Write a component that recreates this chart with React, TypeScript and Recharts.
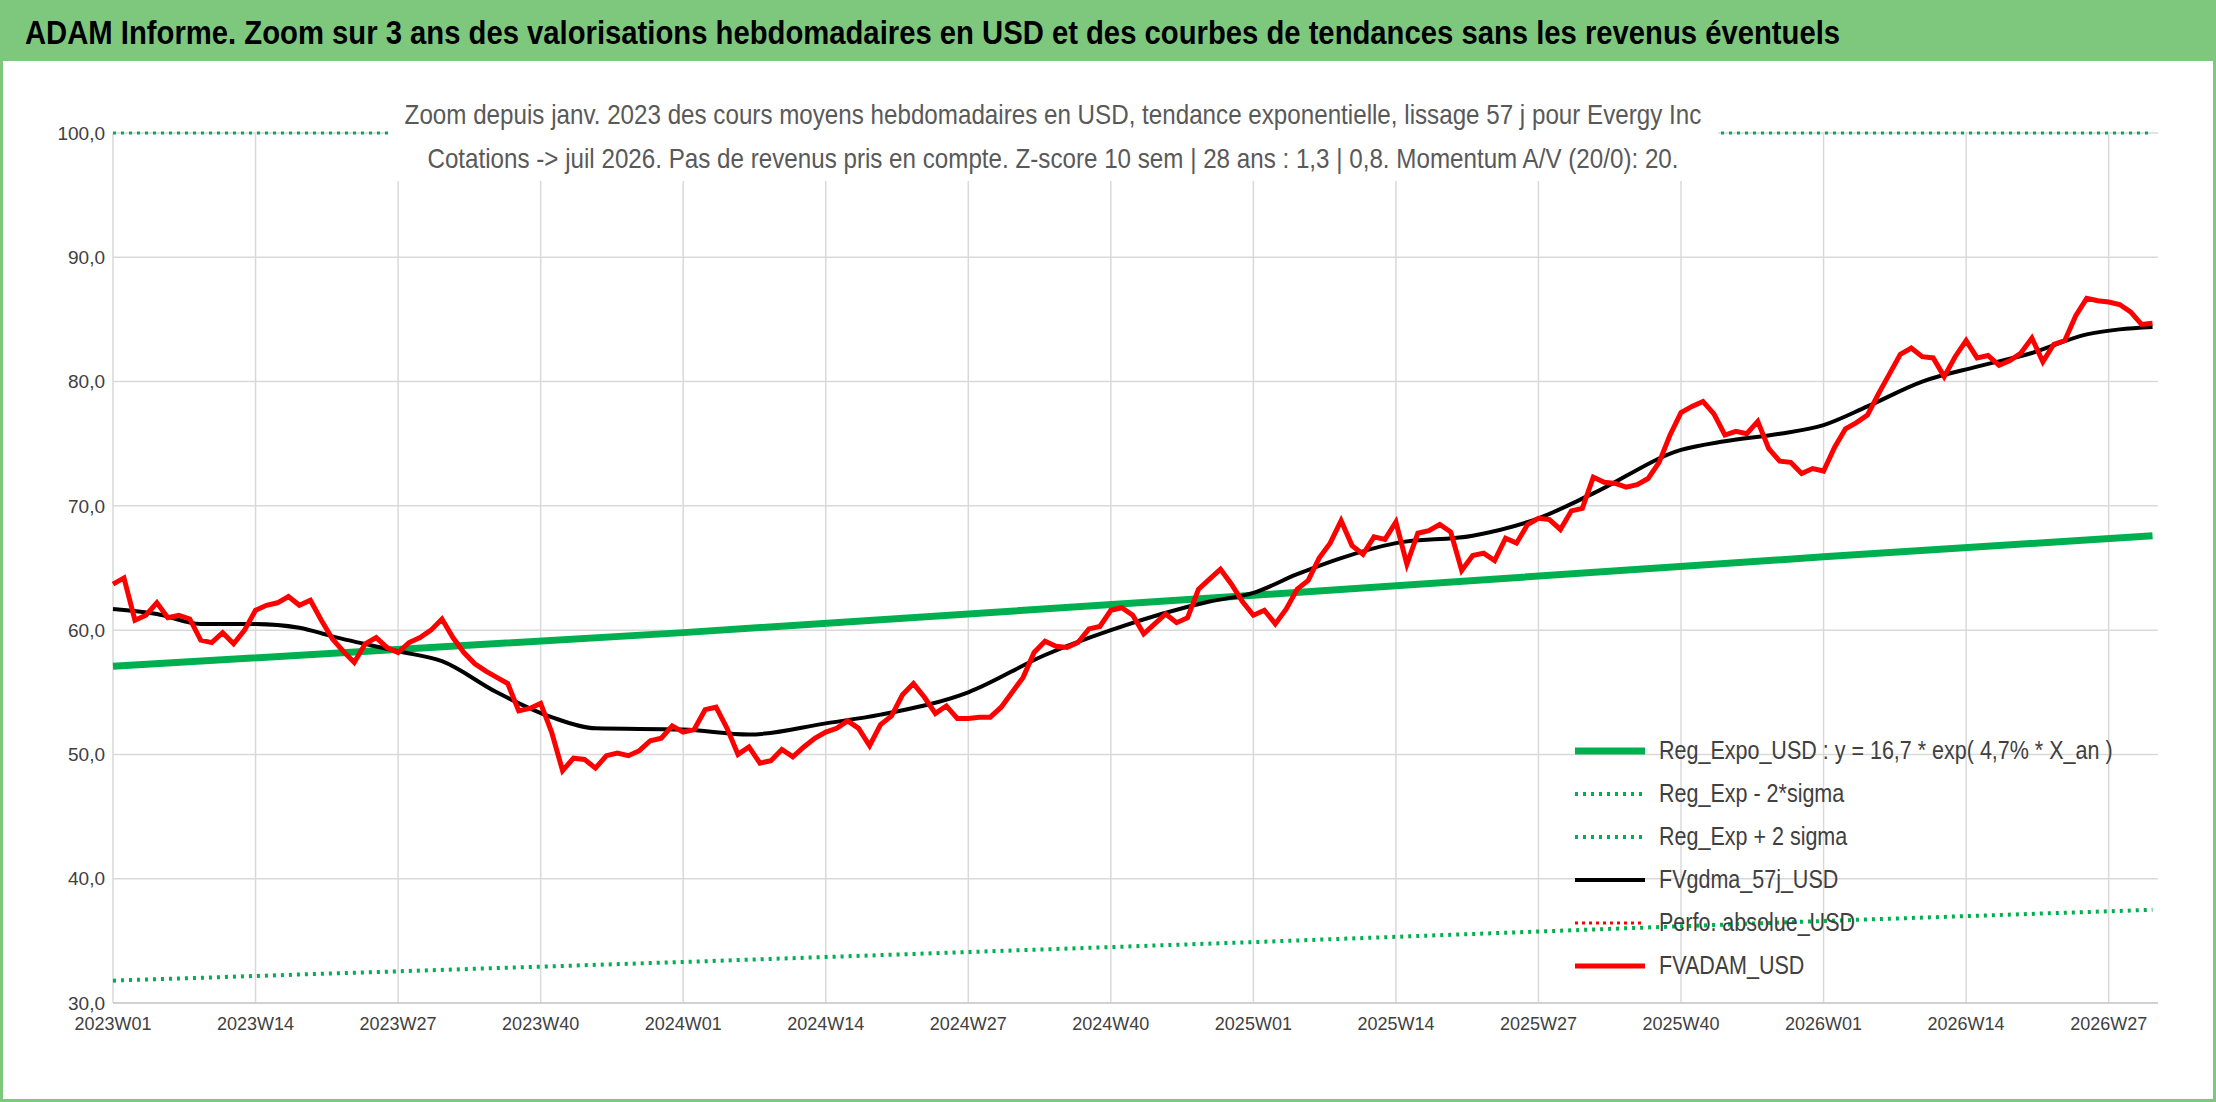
import { LineChart, Line, XAxis, YAxis, CartesianGrid } from "recharts";

const tickWeeks = [0, 13, 26, 39, 52, 65, 78, 91, 104, 117, 130, 143, 156, 169, 182];
const tickLabels = ["2023W01", "2023W14", "2023W27", "2023W40", "2024W01", "2024W14", "2024W27", "2024W40", "2025W01", "2025W14", "2025W27", "2025W40", "2026W01", "2026W14", "2026W27"];

// FVADAM_USD, weekly from 2023W01
const fvadam = [
  63.7, 64.2, 60.8, 61.2, 62.2, 61.0, 61.2, 60.9, 59.2, 59.0, 59.8, 58.9, 60.0, 61.6, 62.0, 62.2, 62.7, 62.0, 62.4, 60.8,
  59.3, 58.3, 57.4, 58.9, 59.4, 58.6, 58.2, 59.0, 59.4, 60.0, 60.9, 59.4, 58.2, 57.3, 56.7, 56.2, 55.7, 53.5, 53.7, 54.1,
  51.8, 48.7, 49.7, 49.6, 48.9, 49.9, 50.1, 49.9, 50.3, 51.1, 51.3, 52.3, 51.8, 52.0, 53.6, 53.8, 52.1, 50.0, 50.6, 49.3,
  49.5, 50.4, 49.8, 50.6, 51.3, 51.8, 52.1, 52.7, 52.1, 50.7, 52.4, 53.1, 54.8, 55.7, 54.6, 53.3, 53.9, 52.9, 52.9, 53.0,
  53.0, 53.8, 55.0, 56.2, 58.2, 59.1, 58.7, 58.6, 59.0, 60.1, 60.3, 61.6, 61.8, 61.2, 59.7, 60.5, 61.3, 60.6, 61.0, 63.3,
  64.1, 64.9, 63.7, 62.3, 61.2, 61.6, 60.5, 61.7, 63.3, 64.0, 65.8, 67.0, 68.8, 66.8, 66.1, 67.5, 67.3, 68.7, 65.3, 67.8,
  68.0, 68.5, 67.9, 64.8, 66.0, 66.2, 65.6, 67.4, 67.0, 68.5, 69.0, 68.9, 68.1, 69.6, 69.8, 72.3, 71.9, 71.8, 71.5, 71.7,
  72.2, 73.5, 75.7, 77.5, 78.0, 78.4, 77.4, 75.7, 76.0, 75.8, 76.8, 74.6, 73.6, 73.5, 72.6, 73.0, 72.8, 74.7, 76.2, 76.7,
  77.3, 79.0, 80.6, 82.2, 82.7, 82.0, 81.9, 80.4, 82.0, 83.3, 81.9, 82.1, 81.3, 81.7, 82.3, 83.5, 81.6, 83.0, 83.3, 85.3,
  86.7, 86.5, 86.4, 86.2, 85.6, 84.6, 84.7,
];

// FVgdma_57j_USD, read at key weeks [week, value]
const gdma: [number, number][] = [
  [0, 61.7], [4, 61.3], [8, 60.5], [13, 60.5], [17, 60.2], [20, 59.5], [26, 58.3], [30, 57.5], [35, 55.0], [40, 53.0],
  [44, 52.1], [52, 52.0], [58, 51.6], [65, 52.5], [70, 53.2], [78, 55.0], [85, 58.0], [91, 60.0], [100, 62.3], [104, 63.0],
  [108, 64.5], [112, 65.8], [117, 67.0], [124, 67.6], [130, 69.0], [135, 71.0], [143, 74.5], [147, 75.2], [152, 75.8],
  [156, 76.5], [160, 78.0], [165, 80.0], [170, 81.2], [175, 82.3], [180, 83.8], [183, 84.2], [186, 84.4],
];

const regExpo: [number, number][] = [[0, 57.1], [52, 59.8], [104, 62.8], [156, 65.9], [186, 67.6]];
const regLow: [number, number][] = [[0, 31.8], [52, 33.3], [104, 34.9], [156, 36.6], [186, 37.5]];
const regHigh: [number, number][] = [[0, 100], [186, 100]];

const data = fvadam.map((v, i) => ({ i, adam: v } as Record<string, number>));
const put = (arr: [number, number][], key: string) => arr.forEach(([i, v]) => (data[i][key] = v));
put(gdma, "gdma");
put(regExpo, "expo");
put(regLow, "low");
put(regHigh, "high");

const font = "'Liberation Sans', Arial, sans-serif";

const legend = [
  { name: "Reg_Expo_USD : y = 16,7 * exp( 4,7% *  X_an )", color: "#00b050", width: 7, dash: undefined },
  { name: "Reg_Exp - 2*sigma", color: "#00b050", width: 4, dash: "3 5" },
  { name: "Reg_Exp + 2 sigma", color: "#00b050", width: 4, dash: "3 5" },
  { name: "FVgdma_57j_USD", color: "#000000", width: 4, dash: undefined },
  { name: "Perfo. absolue_USD", color: "#ff0000", width: 3, dash: "3 4" },
  { name: "FVADAM_USD", color: "#ff0000", width: 5, dash: undefined },
];

export default function App() {
  return (
    <div style={{ position: "absolute", left: 0, top: 0, width: 2216, height: 1102, background: "#fff", border: "3px solid #7ec87e", boxSizing: "border-box", fontFamily: font, overflow: "hidden" }}>
      <div style={{ position: "absolute", left: 0, top: 0, width: 2216, height: 58, background: "#7ec87e" }}>
        <div style={{ position: "absolute", left: 22, top: 0, whiteSpace: "nowrap", color: "#000", fontWeight: "bold", fontSize: 34, lineHeight: "58px", transform: "scaleX(0.86)", transformOrigin: "left" }}>
          ADAM Informe. Zoom sur 3 ans des valorisations hebdomadaires en USD et des courbes de tendances sans les revenus éventuels
        </div>
      </div>
      <div style={{ position: "absolute", left: -3, top: -3 }}>
        <LineChart width={2216} height={1102} data={data} margin={{ top: 133, right: 58, bottom: 59, left: 13 }}>
          <CartesianGrid stroke="#d9d9d9" strokeWidth={1.5} verticalValues={tickWeeks} />
          <XAxis dataKey="i" type="number" domain={[0, 186.5]} ticks={tickWeeks} tickFormatter={(v) => tickLabels[tickWeeks.indexOf(v)]}
            height={40} tick={{ fill: "#404040", fontSize: 18, fontFamily: font, dy: 6 }} tickLine={false} axisLine={{ stroke: "#bfbfbf" }} />
          <YAxis domain={[30, 100]} ticks={[30, 40, 50, 60, 70, 80, 90, 100]} tickFormatter={(v) => v.toFixed(1).replace(".", ",")}
            width={100} tick={{ fill: "#404040", fontSize: 19, fontFamily: font }} tickLine={false} axisLine={false} />
          <Line dataKey="high" stroke="#00b050" strokeWidth={3} strokeDasharray="3 5" dot={false} connectNulls isAnimationActive={false} />
          <Line dataKey="low" stroke="#00b050" strokeWidth={4} strokeDasharray="3 5" dot={false} connectNulls isAnimationActive={false} />
          <Line dataKey="expo" stroke="#00b050" strokeWidth={7} dot={false} connectNulls isAnimationActive={false} />
          <Line dataKey="gdma" type="monotone" stroke="#000" strokeWidth={4} dot={false} connectNulls isAnimationActive={false} />
          <Line dataKey="adam" stroke="#ff0000" strokeWidth={5} dot={false} isAnimationActive={false} />
        </LineChart>
      </div>
      <div style={{ position: "absolute", left: 385, top: 90, width: 1330, background: "#fff", color: "#595959", fontSize: 28, lineHeight: "44px", whiteSpace: "nowrap" }}>
        <div style={{ width: 1540, textAlign: "center", transform: "scaleX(0.8636)", transformOrigin: "left" }}>
          Zoom depuis janv. 2023 des cours moyens hebdomadaires en USD, tendance exponentielle, lissage 57 j pour Evergy Inc<br />
          Cotations -&gt; juil 2026. Pas de revenus pris en compte. Z-score 10 sem | 28 ans : 1,3 | 0,8. Momentum A/V (20/0): 20.
        </div>
      </div>
      <div style={{ position: "absolute", left: 1568, top: 720, width: 590, padding: "6px 0" }}>
        {legend.map((l) => (
          <div key={l.name} style={{ display: "flex", alignItems: "center", height: 43, whiteSpace: "nowrap" }}>
            <svg width={78} height={12} style={{ marginRight: 10, flexShrink: 0 }}>
              <line x1={4} x2={74} y1={6} y2={6} stroke={l.color} strokeWidth={l.width} strokeDasharray={l.dash} />
            </svg>
            <span style={{ fontSize: 25, color: "#404040", display: "inline-block", transform: "scaleX(0.86)", transformOrigin: "left" }}>{l.name}</span>
          </div>
        ))}
      </div>
    </div>
  );
}
